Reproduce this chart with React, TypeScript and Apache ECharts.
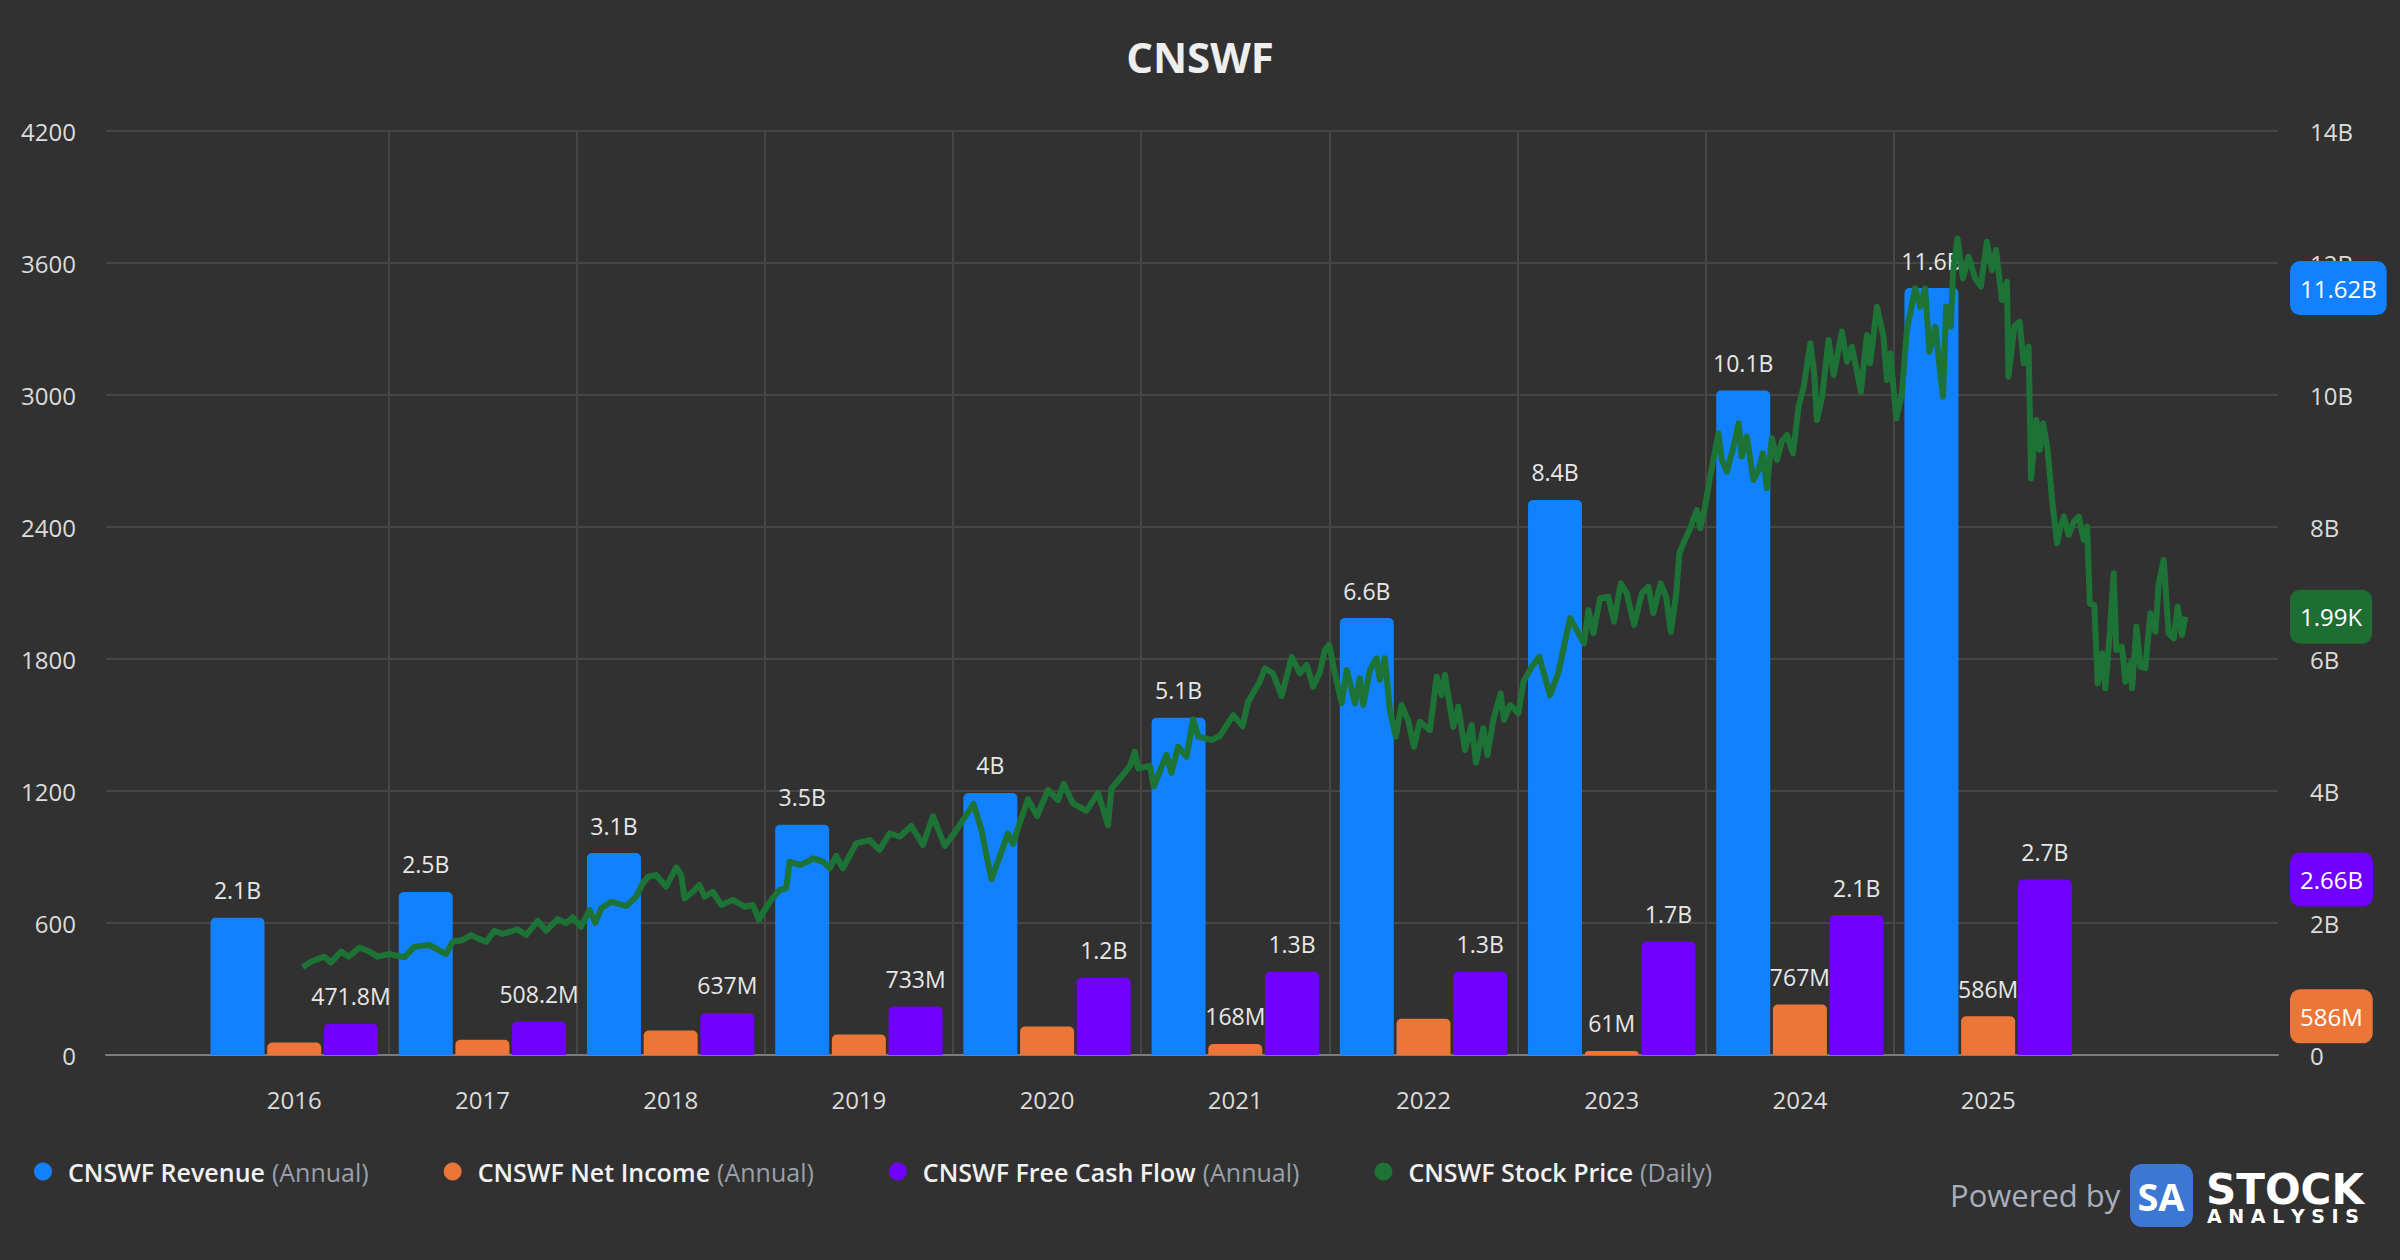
import React, { useEffect, useRef } from "react";
import * as echarts from "echarts";

const FONT = '"Open Sans", "Noto Sans", sans-serif';

const years = [2016, 2017, 2018, 2019, 2020, 2021, 2022, 2023, 2024, 2025];
const revenueB = [2.08, 2.47, 3.06, 3.49, 3.97, 5.11, 6.62, 8.41, 10.07, 11.62];
const netIncomeB = [0.19, 0.23, 0.37, 0.31, 0.43, 0.168, 0.55, 0.061, 0.767, 0.586];
const netIncomeLabelShown = [false, false, false, false, false, true, false, true, true, true];
const fcfB = [0.4718, 0.5082, 0.637, 0.733, 1.17, 1.26, 1.26, 1.72, 2.12, 2.66];
const gridYears = [2017, 2018, 2019, 2020, 2021, 2022, 2023, 2024, 2025];

const leftTicks = { min: 0, max: 4200, interval: 600 };
const rightTicks = { min: 0, max: 14e9, interval: 2e9 };

// decimal years
const stockTimes = [
  2016.544, 2016.589, 2016.66, 2016.695, 2016.749, 2016.79, 2016.846, 2016.9, 2016.943, 2017.005,
  2017.085, 2017.138, 2017.218, 2017.307, 2017.342, 2017.395, 2017.44, 2017.475, 2017.52, 2017.564,
  2017.608, 2017.687, 2017.732, 2017.794, 2017.838, 2017.9, 2017.945, 2017.98, 2018.024, 2018.069,
  2018.1, 2018.131, 2018.184, 2018.264, 2018.317, 2018.352, 2018.379, 2018.423, 2018.476, 2018.53,
  2018.556, 2018.574, 2018.618, 2018.653, 2018.68, 2018.724, 2018.769, 2018.83, 2018.893, 2018.937,
  2018.969, 2018.999, 2019.035, 2019.079, 2019.114, 2019.132, 2019.185, 2019.229, 2019.256, 2019.309,
  2019.345, 2019.38, 2019.415, 2019.486, 2019.557, 2019.61, 2019.664, 2019.717, 2019.779, 2019.84,
  2019.894, 2019.956, 2020.0, 2020.053, 2020.11, 2020.151, 2020.204, 2020.248, 2020.292, 2020.319,
  2020.355, 2020.399, 2020.447, 2020.505, 2020.558, 2020.588, 2020.638, 2020.709, 2020.771, 2020.824,
  2020.842, 2020.895, 2020.943, 2020.966, 2020.984, 2021.046, 2021.067, 2021.134, 2021.161, 2021.196,
  2021.241, 2021.276, 2021.303, 2021.374, 2021.418, 2021.489, 2021.539, 2021.568, 2021.63, 2021.657,
  2021.7, 2021.746, 2021.8, 2021.843, 2021.879, 2021.914, 2021.95, 2021.976, 2021.999, 2022.029,
  2022.065, 2022.092, 2022.136, 2022.162, 2022.18, 2022.215, 2022.25, 2022.268, 2022.295, 2022.321,
  2022.353, 2022.383, 2022.418, 2022.449, 2022.48, 2022.534, 2022.57, 2022.596, 2022.614, 2022.658,
  2022.685, 2022.72, 2022.756, 2022.779, 2022.818, 2022.84, 2022.871, 2022.91, 2022.928, 2022.96,
  2023.004, 2023.031, 2023.075, 2023.115, 2023.172, 2023.216, 2023.261, 2023.279, 2023.314, 2023.353,
  2023.376, 2023.403, 2023.438, 2023.482, 2023.512, 2023.548, 2023.58, 2023.619, 2023.66, 2023.695,
  2023.721, 2023.76, 2023.789, 2023.814, 2023.842, 2023.86, 2023.881, 2023.917, 2023.952, 2023.97,
  2023.996, 2024.023, 2024.04, 2024.067, 2024.085, 2024.112, 2024.147, 2024.174, 2024.191, 2024.218,
  2024.253, 2024.28, 2024.303, 2024.324, 2024.351, 2024.378, 2024.404, 2024.431, 2024.463, 2024.493,
  2024.52, 2024.555, 2024.576, 2024.59, 2024.618, 2024.652, 2024.679, 2024.723, 2024.75, 2024.776,
  2024.803, 2024.824, 2024.856, 2024.873, 2024.909, 2024.944, 2024.962, 2024.98, 2025.012, 2025.042,
  2025.068, 2025.112, 2025.139, 2025.165, 2025.188, 2025.219, 2025.26, 2025.277, 2025.302, 2025.313,
  2025.337, 2025.366, 2025.396, 2025.431, 2025.461, 2025.493, 2025.52, 2025.542, 2025.573, 2025.6,
  2025.608, 2025.639, 2025.667, 2025.689, 2025.715, 2025.728, 2025.756, 2025.774, 2025.792, 2025.816,
  2025.84, 2025.866, 2025.884, 2025.902, 2025.928, 2025.955, 2025.982, 2026.008, 2026.026, 2026.04,
  2026.064, 2026.082, 2026.106, 2026.123, 2026.146, 2026.167, 2026.181, 2026.211, 2026.229, 2026.256,
  2026.265, 2026.288, 2026.309, 2026.335, 2026.362, 2026.389, 2026.406, 2026.433, 2026.459, 2026.486,
  2026.507, 2026.53, 2026.548,
];
const stockPrices = [
  399, 424, 447, 420, 470, 447, 489, 470, 447, 459,
  444, 492, 500, 459, 515, 523, 545, 530, 515, 565,
  550, 571, 545, 610, 565, 617, 599, 626, 583, 659,
  601, 667, 697, 677, 720, 780, 810, 818, 765, 853,
  818, 712, 742, 773, 720, 742, 682, 705, 674, 682,
  614, 659, 705, 750, 758, 879, 864, 879, 894, 879,
  849, 905, 849, 962, 977, 932, 1008, 992, 1041, 955,
  1086, 950, 1000, 1068, 1141, 1023, 799, 901, 1008, 959,
  1056, 1162, 1086, 1205, 1159, 1232, 1144, 1110, 1192, 1045,
  1212, 1265, 1318, 1379, 1303, 1314, 1220, 1364, 1283, 1401,
  1356, 1526, 1447, 1432, 1450, 1545, 1495, 1606, 1697, 1758,
  1735, 1632, 1810, 1735, 1773, 1674, 1742, 1841, 1864, 1735,
  1599, 1750, 1599, 1712, 1591, 1750, 1803, 1705, 1803, 1568,
  1447, 1591, 1523, 1401, 1515, 1477, 1720, 1636, 1727, 1492,
  1583, 1386, 1500, 1329, 1485, 1364, 1523, 1644, 1523, 1591,
  1553, 1697, 1765, 1810, 1636, 1735, 1917, 1985, 1932, 1871,
  2023, 1917, 2076, 2083, 1970, 2144, 2099, 1955, 2099, 2129,
  2008, 2144, 2083, 1924, 2091, 2281, 2326, 2394, 2477, 2394,
  2492, 2629, 2705, 2826, 2705, 2652, 2765, 2871, 2720, 2811,
  2614, 2659, 2735, 2576, 2803, 2705, 2788, 2818, 2735, 2947,
  3038, 3235, 3099, 2886, 2992, 3250, 3091, 3288, 3151, 3220,
  3106, 3015, 3273, 3144, 3402, 3265, 3068, 3190, 2894, 3008,
  3295, 3485, 3402, 3485, 3197, 3311, 2992, 3402, 3311, 3553,
  3712, 3531, 3629, 3531, 3493, 3697, 3568, 3659, 3432, 3515,
  3083, 3311, 3333, 3144, 3220, 2621, 2886, 2750, 2871, 2750,
  2523, 2326, 2401, 2447, 2364, 2424, 2447, 2341, 2401, 2053,
  2045, 1690, 1826, 1667, 1917, 2190, 1841, 1856, 1697, 1780,
  1667, 1947, 1765, 1758, 2008, 1924, 2144, 2250, 1917, 1894,
  2038, 1909, 1992,
];

const COLORS = {
  revenue: "#1181ff",
  netIncome: "#ec7637",
  fcf: "#7000ff",
  stock: "#1d7336",
  stockBox: "#1e6e34",
};

const seriesNames = ["CNSWF Revenue", "CNSWF Net Income", "CNSWF Free Cash Flow", "CNSWF Stock Price"];
const seriesSuffix = ["Annual", "Annual", "Annual", "Daily"];

const trim0 = (s: string) => s.replace(/\.0+$/, "");
const fmtBar = (v: number) => (v >= 1e9 ? trim0((v / 1e9).toFixed(1)) + "B" : trim0((v / 1e6).toFixed(1)) + "M");
const fmtBox = (v: number) => (v >= 1e9 ? (v / 1e9).toFixed(2) + "B" : Math.round(v / 1e6) + "M");

function barSeries(name: string, color: string, vals: number[], shown?: boolean[]) {
  return {
    type: "bar",
    name,
    xAxisIndex: 0,
    yAxisIndex: 1,
    barWidth: 54,
    barGap: "5%",
    z: 2,
    itemStyle: { color, borderRadius: [5, 5, 0, 0] },
    label: {
      show: true,
      position: "top",
      distance: 16,
      color: "#e8e8e8",
      fontSize: 23,
      fontFamily: FONT,
      formatter: (p: any) => fmtBar(p.value[1]),
    },
    data: vals.map((v, i) => ({
      value: [years[i] + 0.5, v * 1e9],
      label: { show: shown ? shown[i] : true },
    })),
  };
}

export default function App() {
  const ref = useRef<HTMLDivElement>(null);

  useEffect(() => {
    document.body.style.margin = "0";
    document.body.style.background = "#313131";
    const chart = echarts.init(ref.current as HTMLDivElement, undefined, { renderer: "svg" });

    chart.setOption({
      animation: false,
      backgroundColor: "#313131",
      textStyle: { fontFamily: FONT },
      title: {
        text: "CNSWF",
        left: "center",
        top: 30,
        textStyle: { fontSize: 42, fontWeight: "bold", color: "#eeeeee", fontFamily: FONT },
      },
      grid: { left: 106, right: 122, top: 131, bottom: 205, containLabel: false },
      legend: {
        left: 29,
        top: 1154,
        icon: "circle",
        itemWidth: 40,
        itemHeight: 18,
        itemGap: 75,
        selectedMode: false,
        data: seriesNames,
        formatter: (name: string) => {
          const i = seriesNames.indexOf(name);
          return `{a|${name}}{sp| }{b|(${seriesSuffix[i]})}`;
        },
        textStyle: {
          rich: {
            a: { color: "#f2f2f2", fontSize: 25, fontWeight: 600, fontFamily: FONT },
            sp: { fontSize: 25, width: 7 },
            b: { color: "#9aa0ab", fontSize: 25, fontFamily: FONT },
          },
        },
      },
      xAxis: [
        {
          type: "value",
          min: 2015.5,
          max: 2027.04,
          interval: 0.5,
          axisLine: { show: true, lineStyle: { color: "#7c7c7c", width: 2 } },
          axisTick: { show: false },
          splitLine: { show: false },
          axisLabel: {
            color: "#dcdcdc",
            fontSize: 24,
            fontFamily: FONT,
            margin: 32,
            formatter: (v: number) => {
              const f = Math.floor(v);
              return Math.abs(v - f - 0.5) < 1e-6 && years.indexOf(f) >= 0 ? String(f) : "";
            },
          },
        },
      ],
      yAxis: [
        {
          type: "value",
          position: "left",
          ...leftTicks,
          axisLine: { show: false },
          axisTick: { show: false },
          splitLine: { show: true, lineStyle: { color: "#464646", width: 2 } },
          axisLabel: { color: "#dcdcdc", fontSize: 24, fontFamily: FONT, margin: 30, formatter: (v: number) => String(v) },
        },
        {
          type: "value",
          position: "right",
          ...rightTicks,
          axisLine: { show: false },
          axisTick: { show: false },
          splitLine: { show: false },
          axisLabel: {
            color: "#dcdcdc",
            fontSize: 24,
            fontFamily: FONT,
            margin: 32,
            formatter: (v: number) => (v === 0 ? "0" : v / 1e9 + "B"),
          },
        },
      ],
      series: [
        {
          type: "line",
          name: "__grid",
          xAxisIndex: 0,
          yAxisIndex: 0,
          z: 0,
          silent: true,
          showSymbol: false,
          data: [],
          markLine: {
            silent: true,
            z: 0,
            symbol: ["none", "none"],
            label: { show: false },
            lineStyle: { color: "#464646", width: 2, type: "solid" },
            emphasis: { disabled: true },
            data: gridYears.map((y) => ({ xAxis: y })),
          },
        },
        barSeries(seriesNames[0], COLORS.revenue, revenueB),
        barSeries(seriesNames[1], COLORS.netIncome, netIncomeB, netIncomeLabelShown),
        barSeries(seriesNames[2], COLORS.fcf, fcfB),
        {
          type: "line",
          name: seriesNames[3],
          xAxisIndex: 0,
          yAxisIndex: 0,
          showSymbol: false,
          symbol: "none",
          z: 4,
          lineStyle: { color: COLORS.stock, width: 6, join: "round" },
          itemStyle: { color: COLORS.stock },
          data: stockTimes.map((t, i) => [t, stockPrices[i]]),
        },
      ],
    });

    const lastRev = revenueB[revenueB.length - 1] * 1e9;
    const lastNI = netIncomeB[netIncomeB.length - 1] * 1e9;
    const lastFcf = fcfB[fcfB.length - 1] * 1e9;
    const lastStock = stockPrices[stockPrices.length - 1];

    const boxes = [
      { text: fmtBox(lastRev), y: chart.convertToPixel({ yAxisIndex: 1 } as any, lastRev) as number, color: COLORS.revenue },
      { text: (lastStock / 1000).toFixed(2) + "K", y: chart.convertToPixel({ yAxisIndex: 0 } as any, lastStock) as number, color: COLORS.stockBox },
      { text: fmtBox(lastFcf), y: chart.convertToPixel({ yAxisIndex: 1 } as any, lastFcf) as number, color: COLORS.fcf },
      { text: fmtBox(lastNI), y: chart.convertToPixel({ yAxisIndex: 1 } as any, lastNI) as number, color: COLORS.netIncome },
    ];

    chart.setOption({
      graphic: [
        ...boxes.map((b, i) => ({
          type: "text",
          id: "box" + i,
          x: 2290,
          y: b.y,
          z: 100,
          style: {
            text: b.text,
            fill: "#ffffff",
            fontSize: 24,
            fontFamily: FONT,
            backgroundColor: b.color,
            padding: [15, 10, 15, 10],
            borderRadius: 10,
            align: "left",
            verticalAlign: "middle",
          },
        })),
        {
          type: "text",
          id: "powered",
          x: 1950,
          y: 1195,
          style: { text: "Powered by", fill: "#a8aebb", fontSize: 31, fontFamily: FONT, align: "left", verticalAlign: "middle" },
        },
        {
          type: "rect",
          id: "logoBg",
          shape: { x: 2130, y: 1164, width: 63, height: 63, r: 12 },
          style: { fill: "#3d77d6" },
        },
        {
          type: "text",
          id: "logoSA",
          x: 2161,
          y: 1196,
          style: { text: "SA", fill: "#ffffff", fontSize: 38, fontWeight: "bold", fontFamily: FONT, align: "center", verticalAlign: "middle" },
        },
        {
          type: "text",
          id: "logoStock",
          x: 2206,
          y: 1189,
          style: { text: "STOCK", fill: "#ffffff", fontSize: 42, lineHeight: 34, fontWeight: "bold", fontFamily: '"DejaVu Sans", sans-serif', align: "left", verticalAlign: "middle" },
        },
        {
          type: "text",
          id: "logoAnalysis",
          x: 2207,
          y: 1216,
          style: { text: "A N A L Y S I S", fill: "#ffffff", fontSize: 19, lineHeight: 16, fontWeight: "bold", fontFamily: '"DejaVu Sans", sans-serif', align: "left", verticalAlign: "middle" },
        },
      ],
    });

    return () => chart.dispose();
  }, []);

  return <div ref={ref} style={{ width: 2400, height: 1260 }} />;
}
